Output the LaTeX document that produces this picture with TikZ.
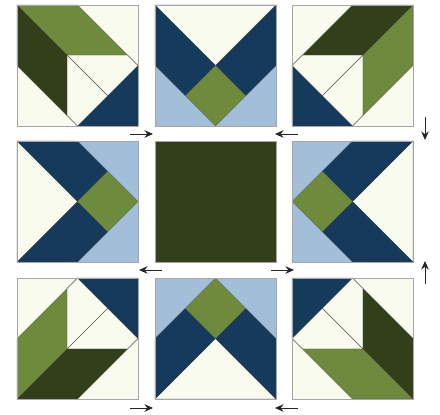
\documentclass[tikz,border=0pt]{standalone}
\usepackage{xcolor}
\usepackage{tikz}
\usetikzlibrary{arrows.meta}
\definecolor{cream}{HTML}{FAFBEF}
\definecolor{lgreen}{HTML}{6E8A3C}
\definecolor{dgreen}{HTML}{333F1B}
\definecolor{navy}{HTML}{163A5B}
\definecolor{lblue}{HTML}{A2BED8}
\tikzset{
  patch/.style={draw=gray!60!black,line width=0.3pt},
  seam/.style={draw=gray!60!black,line width=0.4pt},
  frame/.style={draw=gray!70,line width=0.7pt},
  flow/.style={-{Stealth[length=8.5pt,width=7.5pt]},line width=0.9pt,black!85},
  blk/.style 2 args={shift={#1},x=121pt,y=-121pt,rotate=#2,shift={(-0.5,-0.5)}},
}
\newcommand{\cubeoff}{0.414}
%% corner block: two green parallelograms, navy corner
\newcommand{\cornerblock}{%
  \fill[cream] (0,0) rectangle (1,1);
  \filldraw[patch,fill=lgreen] (0,0) -- (0.5,0) -- (0.5+\cubeoff,\cubeoff)
    -- (\cubeoff,\cubeoff) -- cycle;
  \filldraw[patch,fill=dgreen] (0,0) -- (\cubeoff,\cubeoff)
    -- (\cubeoff,0.5+\cubeoff) -- (0,0.5) -- cycle;
  \filldraw[patch,fill=navy] (1,0.5) -- (1,1) -- (0.5,1) -- cycle;
  \draw[seam] (0.5+\cubeoff,\cubeoff) -- (1,0.5);
  \draw[seam] (\cubeoff,0.5+\cubeoff) -- (0.5,1);
  \draw[seam] (\cubeoff,\cubeoff) -- (0.75,0.75);
  \draw[frame] (0,0) rectangle (1,1);
}
%% edge block: chevron with green diamond
\newcommand{\chevronblock}{%
  \fill[lblue] (0,0) rectangle (1,1);
  \filldraw[patch,fill=cream] (0,0) -- (1,0) -- (0.5,0.5) -- cycle;
  \filldraw[patch,fill=navy] (0,0) -- (0.5,0.5) -- (0.25,0.75) -- (0,0.5) -- cycle;
  \filldraw[patch,fill=navy] (1,0) -- (1,0.5) -- (0.75,0.75) -- (0.5,0.5) -- cycle;
  \filldraw[patch,fill=lgreen] (0.5,0.5) -- (0.75,0.75) -- (0.5,1)
    -- (0.25,0.75) -- cycle;
  \draw[frame] (0,0) rectangle (1,1);
}

\begin{document}
\begin{tikzpicture}[x=1pt,y=-1pt]
\useasboundingbox[fill=white] (0,0) rectangle (440,415);

%% ---------- top row ----------
\begin{scope}[blk={(77.5,65.5)}{0}]    \cornerblock  \end{scope}
\begin{scope}[blk={(215.5,65.5)}{0}]   \chevronblock \end{scope}
\begin{scope}[blk={(352.5,65.5)}{-90}] \cornerblock  \end{scope}

%% ---------- middle row ----------
\begin{scope}[blk={(77.5,201.5)}{90}]   \chevronblock \end{scope}
\begin{scope}[blk={(215.5,201.5)}{0}]
  \filldraw[frame,fill=dgreen] (0,0) rectangle (1,1);
\end{scope}
\begin{scope}[blk={(352.5,201.5)}{-90}] \chevronblock \end{scope}

%% ---------- bottom row ----------
\begin{scope}[blk={(77.5,338.5)}{90}]   \cornerblock  \end{scope}
\begin{scope}[blk={(215.5,338.5)}{180}] \chevronblock \end{scope}
\begin{scope}[blk={(352.5,338.5)}{180}] \cornerblock  \end{scope}

%% ---------- turning arrows ----------
\coordinate (t1s) at (130,134); \coordinate (t1e) at (153,134);
\coordinate (t2s) at (298,134); \coordinate (t2e) at (275,134);
\coordinate (t3s) at (425,117); \coordinate (t3e) at (425,140);
\coordinate (m1s) at (162,270); \coordinate (m1e) at (139,270);
\coordinate (m2s) at (271,270); \coordinate (m2e) at (294,270);
\coordinate (m3s) at (425,284); \coordinate (m3e) at (425,261);
\coordinate (b1s) at (130,408); \coordinate (b1e) at (153,408);
\coordinate (b2s) at (298,408); \coordinate (b2e) at (275,408);

\draw[flow] (t1s) -- (t1e);
\draw[flow] (t2s) -- (t2e);
\draw[flow] (t3s) -- (t3e);
\draw[flow] (m1s) -- (m1e);
\draw[flow] (m2s) -- (m2e);
\draw[flow] (m3s) -- (m3e);
\draw[flow] (b1s) -- (b1e);
\draw[flow] (b2s) -- (b2e);
\end{tikzpicture}
\end{document}
